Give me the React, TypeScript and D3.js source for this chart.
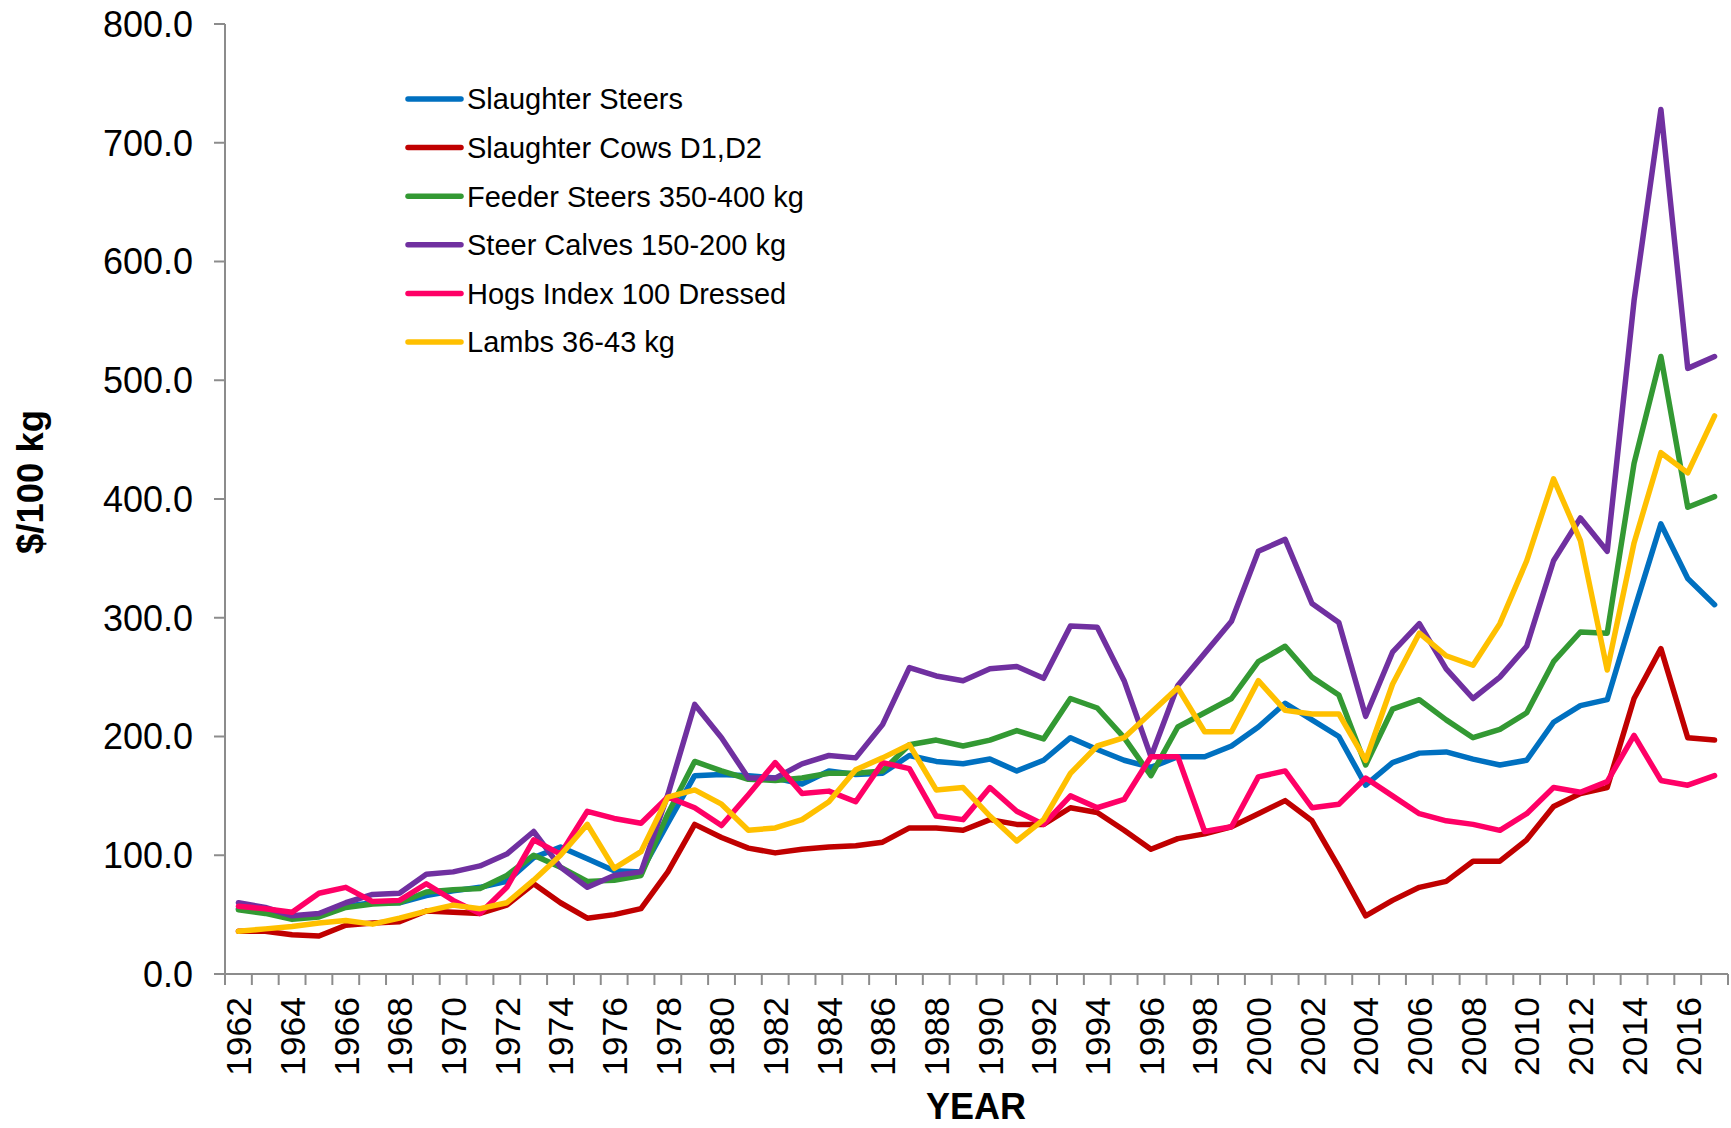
import React from "react";
import * as d3 from "d3";

const years = [
  1962, 1963, 1964, 1965, 1966, 1967, 1968, 1969, 1970, 1971, 1972, 1973, 1974, 1975,
  1976, 1977, 1978, 1979, 1980, 1981, 1982, 1983, 1984, 1985, 1986, 1987, 1988, 1989,
  1990, 1991, 1992, 1993, 1994, 1995, 1996, 1997, 1998, 1999, 2000, 2001, 2002, 2003,
  2004, 2005, 2006, 2007, 2008, 2009, 2010, 2011, 2012, 2013, 2014, 2015, 2016, 2017,
];

const slaughterSteers = [
  55, 52, 47, 50, 57, 60, 60, 66, 70, 73, 78, 98, 107, 97, 87, 86, 127, 167, 168, 167,
  165, 160, 171, 168, 169, 184, 179, 177, 181, 171, 180, 199, 189, 180, 174, 183, 183, 192,
  208, 228, 214, 200, 159, 178, 186, 187, 181, 176, 180, 212, 226, 231, 306, 379, 333, 311,
];
const slaughterCows = [
  36, 36, 33, 32, 41, 43, 44, 53, 52, 51, 58, 76, 60, 47, 50, 55, 86, 126, 115, 106,
  102, 105, 107, 108, 111, 123, 123, 121, 130, 126, 126, 140, 136, 121, 105, 114, 118, 124,
  135, 146, 129, 90, 49, 62, 73, 78, 95, 95, 113, 141, 152, 157, 232, 274, 199, 197,
];
const feederSteers = [
  54, 51, 46, 48, 56, 59, 60, 69, 71, 72, 83, 100, 90, 78, 79, 83, 135, 179, 171, 164,
  163, 165, 169, 169, 171, 193, 197, 192, 197, 205, 198, 232, 224, 199, 167, 208, 220, 232,
  263, 276, 250, 235, 176, 223, 231, 214, 199, 206, 220, 263, 288, 287, 430, 520, 393, 402,
];
const steerCalves = [
  60, 56, 49, 51, 60, 67, 68, 84, 86, 91, 101, 120, 90, 73, 83, 86, 151, 227, 199, 165,
  165, 177, 184, 182, 210, 258, 251, 247, 257, 259, 249, 293, 292, 247, 183, 243, 270, 297,
  356, 366, 312, 296, 217, 271, 295, 257, 232, 250, 276, 348, 384, 356, 567, 728, 510, 520,
];
const hogsIndex = [
  57, 55, 52, 68, 73, 61, 62, 76, 62, 51, 73, 113, 101, 137, 131, 127, 149, 140, 125, 151,
  178, 152, 154, 145, 178, 173, 133, 130, 157, 137, 126, 150, 140, 147, 183, 183, 120, 124,
  166, 171, 140, 143, 165, 150, 135, 129, 126, 121, 135, 157, 153, 162, 201, 163, 159, 167,
];
const lambs = [
  36, 38, 40, 43, 45, 42, 47, 53, 58, 55, 60, 79, 100, 126, 89, 103, 149, 155, 143, 121,
  123, 130, 145, 172, 182, 193, 155, 157, 133, 112, 130, 169, 192, 199, 220, 241, 204, 204,
  247, 222, 219, 219, 180, 244, 287, 268, 260, 295, 348, 417, 365, 256, 363, 439, 422, 470,
];

const seriesNames = [
  "Slaughter Steers",
  "Slaughter Cows D1,D2",
  "Feeder Steers 350-400 kg",
  "Steer Calves 150-200 kg",
  "Hogs Index 100 Dressed",
  "Lambs 36-43 kg",
];
const seriesValues = [slaughterSteers, slaughterCows, feederSteers, steerCalves, hogsIndex, lambs];
const seriesColors = ["#0070C0", "#C00000", "#339933", "#7030A0", "#FF0066", "#FFC000"];

const yTicks = [0, 100, 200, 300, 400, 500, 600, 700, 800];

const W = 1731;
const H = 1128;
const FONT = "'Liberation Sans', Arial, Helvetica, sans-serif";
const AXIS = "#8c8c8c";

export default function App() {
  const x = d3.scaleBand<number>().domain(years).range([225, 1728]).padding(0);
  const y = d3.scaleLinear().domain([0, 800]).range([974, 24]);
  const line = d3
    .line<number>()
    .x((_, i) => (x(years[i]) as number) + x.bandwidth() / 2)
    .y((d) => y(d));

  const boundaries = years.map((yr) => x(yr) as number).concat([x.range()[1]]);
  const labelYears = years.filter((yr) => (yr - 1962) % 2 === 0);

  return (
    <svg
      width={W}
      height={H}
      style={{ position: "absolute", left: 0, top: 0, background: "#fff" }}
      fontFamily={FONT}
    >
      <rect x={0} y={0} width={W} height={H} fill="#fff" />
      {/* y axis */}
      <line x1={225} x2={225} y1={y(800)} y2={y(0)} stroke={AXIS} strokeWidth={2} />
      {yTicks.map((t) => (
        <g key={t}>
          <line x1={214} x2={225} y1={y(t)} y2={y(t)} stroke={AXIS} strokeWidth={2} />
          <text x={193} y={y(t)} dy="0.36em" textAnchor="end" fontSize={36} fill="#000">
            {d3.format(".1f")(t)}
          </text>
        </g>
      ))}
      {/* x axis */}
      <line x1={225} x2={x.range()[1]} y1={y(0)} y2={y(0)} stroke={AXIS} strokeWidth={2} />
      {boundaries.map((b, i) => (
        <line key={i} x1={b} x2={b} y1={y(0)} y2={y(0) + 11} stroke={AXIS} strokeWidth={2} />
      ))}
      {labelYears.map((yr) => {
        const cx = (x(yr) as number) + x.bandwidth() / 2;
        const cy = 997;
        return (
          <text
            key={yr}
            transform={`translate(${cx},${cy}) rotate(-90)`}
            dy="0.36em"
            textAnchor="end"
            fontSize={35.5}
            fill="#000"
          >
            {yr}
          </text>
        );
      })}
      {/* titles */}
      <text
        transform={`translate(43,482) rotate(-90)`}
        textAnchor="middle"
        fontSize={36.5}
        fontWeight="bold"
        fill="#000"
      >
        $/100 kg
      </text>
      <text x={976} y={1119} textAnchor="middle" fontSize={36} fontWeight="bold" fill="#000">
        YEAR
      </text>
      {/* series */}
      {seriesValues.map((vals, i) => (
        <path
          key={seriesNames[i]}
          d={line(vals) as string}
          fill="none"
          stroke={seriesColors[i]}
          strokeWidth={5.5}
          strokeLinejoin="round"
          strokeLinecap="round"
        />
      ))}
      {/* legend */}
      {seriesNames.map((name, i) => {
        const ly = 99 + i * 48.6;
        return (
          <g key={name}>
            <line x1={408} x2={461} y1={ly} y2={ly} stroke={seriesColors[i]} strokeWidth={5.5} strokeLinecap="round" />
            <text x={467} y={ly} dy="0.36em" fontSize={29} fill="#000">
              {name}
            </text>
          </g>
        );
      })}
    </svg>
  );
}
